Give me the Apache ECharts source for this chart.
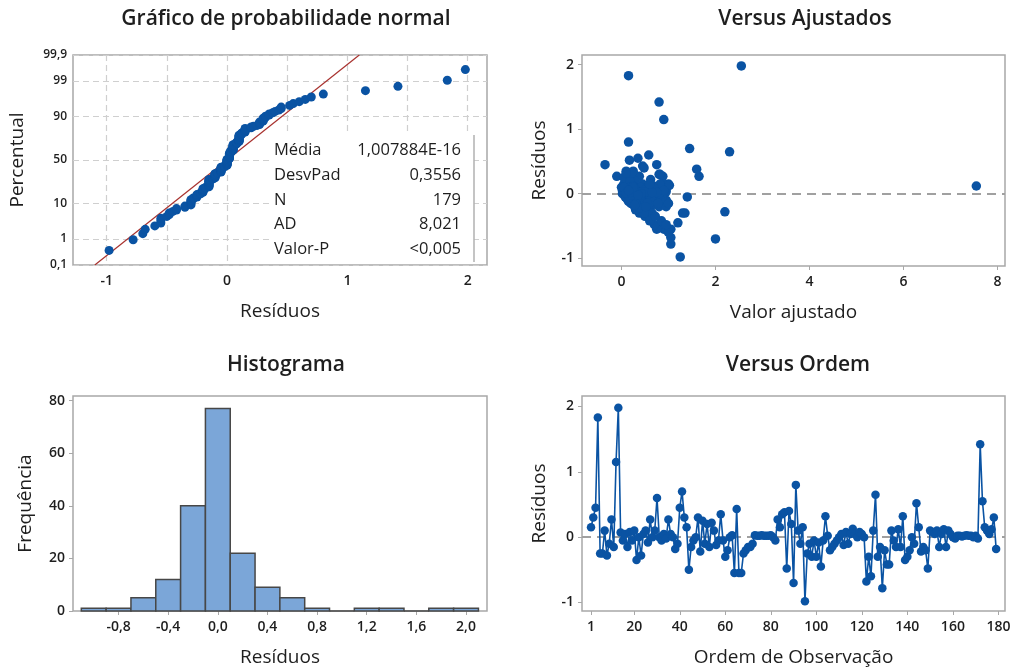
<!DOCTYPE html>
<html><head><meta charset="utf-8">
<script src="https://cdn.jsdelivr.net/npm/echarts@6/dist/echarts.min.js"></script>
<style>html,body{margin:0;padding:0;background:#fff}#c{width:1014px;height:669px}</style>
</head><body><div id="c"></div>
<script>
// ---------- DATA ----------
// residuals in observation order (1..179), read from "Versus Ordem"
const residuals = [
 0.15, 0.30, 0.45, 1.83, -0.25, -0.25, 0.10, -0.28, -0.10, 0.27,
 -0.15, 1.15, 1.98, 0.07, -0.05, 0.05, -0.15, 0.08, -0.05, 0.10,
 -0.35, 0.00, -0.28, 0.05, 0.10, -0.08, 0.27, 0.00, 0.10, 0.60,
 0.00, -0.05, 0.05, -0.02, 0.27, 0.05, 0.00, -0.18, -0.10, 0.45,
 0.70, 0.30, 0.15, -0.50, -0.15, -0.05, 0.00, 0.30, -0.22, 0.25,
 -0.10, 0.20, -0.15, 0.22, 0.10, -0.12, -0.05, 0.35, -0.05, -0.30,
 -0.20, 0.00, 0.03, -0.55, 0.43, -0.55, -0.55, -0.25, -0.20, -0.15,
 -0.15, -0.10, 0.03, 0.02, 0.02, 0.03, 0.02, 0.02, 0.02, 0.03,
 0.00, -0.05, 0.27, 0.15, 0.35, 0.38, -0.48, 0.40, 0.20, -0.70,
 0.80, 0.10, -0.10, 0.15, -0.98, -0.25, -0.10, -0.30, -0.05, -0.30,
 -0.08, -0.45, -0.05, 0.32, 0.02, -0.20, -0.15, -0.10, -0.05, 0.00,
 0.05, -0.12, 0.08, -0.10, 0.05, 0.13, 0.05, 0.00, 0.08, 0.05,
 0.00, -0.68, -0.30, -0.60, 0.10, 0.65, -0.30, -0.15, -0.78, -0.20,
 -0.42, -0.42, 0.10, -0.05, -0.15, 0.12, -0.15, 0.32, -0.35, -0.30,
 -0.20, 0.00, -0.10, 0.52, 0.15, -0.22, -0.15, -0.20, -0.48, 0.10,
 0.08, 0.05, 0.10, -0.15, 0.05, 0.12, -0.15, 0.10, 0.05, 0.00,
 -0.02, 0.02, 0.02, 0.01, 0.02, 0.03, 0.02, 0.02, 0.00, 0.02,
 -0.02, 1.42, 0.55, 0.15, 0.10, 0.05, 0.12, 0.30, -0.18
];
// fitted values in observation order, read from "Versus Ajustados"
const fitted = [
 0.05, 0.22, 0.75, 0.15, 0.45, 0.60, 0.30, 0.55, 0.20, -0.10,
 0.35, 0.90, 2.55, 0.95, 0.15, 0.40, 0.70, 0.10, 0.55, 0.65,
 0.50, 0.02, 2.20, 0.25, 0.50, 0.12, 0.38, 0.30, 0.75, 0.58,
 0.45, 0.08, 0.60, 0.35, 0.88, 0.18, 0.72, 0.30, 0.95, -0.35,
 1.45, 0.15, 1.00, 0.80, 0.22, 0.68, 0.12, 0.80, 0.40, 0.05,
 0.50, 0.28, 0.90, 0.62, 0.20, 0.15, 0.85, 0.25, 0.40, 0.38,
 0.62, 0.55, 0.95, 0.90, 0.45, 1.05, 0.75, 0.30, 0.80, 0.45,
 0.25, 0.58, 0.10, 0.20, 0.30, 0.40, 0.50, 0.15, 0.62, 0.05,
 0.35, 0.28, 1.65, 0.90, 0.10, 1.60, 0.70, 0.48, 0.18, 2.00,
 0.15, 0.85, 0.30, 0.45, 1.25, 0.50, 0.70, 1.35, 0.20, 0.65,
 0.42, 1.20, 1.40, 0.22, 0.78, 0.35, 0.60, 0.15, 0.50, 0.25,
 0.80, 0.95, 0.35, 0.42, 0.02, 1.02, 0.70, 0.60, 0.45, 0.12,
 0.88, 1.05, 1.30, 1.00, 0.55, 2.30, 0.45, 0.20, 1.05, 0.95,
 0.60, 0.85, 0.00, 0.65, 0.50, 0.68, 1.00, 0.10, 0.72, 0.48,
 0.28, 0.80, 0.18, 0.17, 0.82, 0.38, 0.55, 0.52, 0.95, 0.40,
 0.70, 0.32, 0.18, 0.30, 0.90, 0.25, 0.78, 0.05, 0.48, 0.58,
 0.22, 0.40, 0.62, 0.10, 0.30, 0.50, 0.75, 0.20, 0.42, 0.65,
 0.35, 0.80, 0.35, 0.60, 0.25, 0.15, 7.55, 0.82, 0.28
];
const histBinCenters = [-1.0, -0.8, -0.6, -0.4, -0.2, 0.0, 0.2, 0.4, 0.6, 0.8, 1.0, 1.2, 1.4, 1.6, 1.8, 2.0];
const histCounts     = [1, 1, 5, 12, 40, 77, 22, 9, 5, 1, 0, 1, 1, 0, 1, 1];
const histBinWidth = 0.2;

const percentTicks = [0.1, 1, 10, 50, 90, 99, 99.9];
const percentTickLabels = ['0,1', '1', '10', '50', '90', '99', '99,9'];
const residTicks = [-1, 0, 1, 2];
const probGridX = [-1, -0.5, 0, 0.5, 1, 1.5, 2];
const fitTicks = [0, 2, 4, 6, 8];
const histXTicks = [-0.8, -0.4, 0.0, 0.4, 0.8, 1.2, 1.6, 2.0];
const histYTicks = [0, 20, 40, 60, 80];
const orderTicks = [1, 20, 40, 60, 80, 100, 120, 140, 160, 180];

const statsLabels = ['Média', 'DesvPad', 'N', 'AD', 'Valor-P'];
const statsValues = ['1,007884E-16', '0,3556', '179', '8,021', '<0,005'];
const fitMean = 1.007884e-16, fitSd = 0.3556;

// ---------- helpers ----------
function qnorm(p){
 const a=[-3.969683028665376e+01,2.209460984245205e+02,-2.759285104469687e+02,1.383577518672690e+02,-3.066479806614716e+01,2.506628277459239e+00];
 const b=[-5.447609879822406e+01,1.615858368580409e+02,-1.556989798598866e+02,6.680131188771972e+01,-1.328068155288572e+01];
 const c=[-7.784894002430293e-03,-3.223964580411365e-01,-2.400758277161838e+00,-2.549732539343734e+00,4.374664141464968e+00,2.938163982698783e+00];
 const d=[7.784695709041462e-03,3.224671290700398e-01,2.445134137142996e+00,3.754408661907416e+00];
 const pl=0.02425, ph=1-pl; let q,r;
 if(p<pl){q=Math.sqrt(-2*Math.log(p));return (((((c[0]*q+c[1])*q+c[2])*q+c[3])*q+c[4])*q+c[5])/((((d[0]*q+d[1])*q+d[2])*q+d[3])*q+1);}
 if(p<=ph){q=p-0.5;r=q*q;return (((((a[0]*r+a[1])*r+a[2])*r+a[3])*r+a[4])*r+a[5])*q/(((((b[0]*r+b[1])*r+b[2])*r+b[3])*r+b[4])*r+1);}
 q=Math.sqrt(-2*Math.log(1-p));return -(((((c[0]*q+c[1])*q+c[2])*q+c[3])*q+c[4])*q+c[5])/((((d[0]*q+d[1])*q+d[2])*q+d[3])*q+1);
}
const percentZ = percentTicks.map(p => qnorm(p/100));
const n = residuals.length;
const sorted = residuals.slice().sort((x,y)=>x-y);
const probData = sorted.map((r,i)=>[r, qnorm((i+1-0.3)/(n+0.4))]);
const zLo = percentZ[0], zHi = percentZ[percentZ.length-1];
const fitLine = [[fitMean+fitSd*zLo, zLo],[fitMean+fitSd*zHi, zHi]];
const scatterData = residuals.map((r,i)=>[fitted[i], r]);
const orderData = residuals.map((r,i)=>[i+1, r]);
const histData = histBinCenters.map((c,i)=>[c, histCounts[i]]);

const BLUE = '#0a53a3';
const TXT = '#1e1e1e';
const FRAME = '#a8a8a8';
const FONT = 'Open Sans';

function lbl(extra){
  return Object.assign({color:TXT, fontSize:14, fontFamily:FONT, fontWeight:600}, extra);
}
function axisBase(extra){
  return Object.assign({
    type:'value',
    axisLine:{show:false, onZero:false},
    splitLine:{show:false},
    nameTextStyle:{color:TXT, fontSize:19, fontFamily:FONT},
    nameLocation:'middle'
  }, extra);
}
const tick = vals => ({show:true, length:4, inside:false, lineStyle:{color:FRAME, width:1}, customValues:vals});
const titleStyle = {color:TXT, fontSize:21, fontWeight:600, fontFamily:FONT};
const gridBase = {show:true, borderColor:FRAME, borderWidth:1.5, backgroundColor:'#fff', containLabel:false};

const option = {
  animation:false,
  backgroundColor:'#fff',
  title:[
    {text:'Gráfico de probabilidade normal', left:281, top:4, textAlign:'center', textStyle:titleStyle},
    {text:'Versus Ajustados', left:800, top:4, textAlign:'center', textStyle:titleStyle},
    {text:'Histograma', left:281, top:350, textAlign:'center', textStyle:titleStyle},
    {text:'Versus Ordem', left:793, top:350, textAlign:'center', textStyle:titleStyle}
  ],
  grid:[
    Object.assign({left:73, top:55, width:414, height:210}, gridBase),
    Object.assign({left:582, top:55, width:423, height:211}, gridBase),
    Object.assign({left:73, top:396, width:414, height:215}, gridBase),
    Object.assign({left:582, top:396, width:423, height:215}, gridBase)
  ],
  xAxis:[
    axisBase({gridIndex:0, min:-1.28, max:2.16, name:'Resíduos', nameGap:37,
      axisTick:{show:false, customValues:probGridX},
      splitLine:{show:true, lineStyle:{color:'#cfcfcf', width:1.2, type:[6,4]}},
      axisLabel:lbl({margin:9, customValues:residTicks})}),
    axisBase({gridIndex:1, min:-0.84, max:8.16, name:'Valor ajustado', nameGap:37,
      axisTick:tick(fitTicks),
      axisLabel:lbl({margin:9, customValues:fitTicks})}),
    axisBase({gridIndex:2, min:-1.167, max:2.169, name:'Resíduos', nameGap:37,
      axisTick:tick(histXTicks),
      axisLabel:lbl({margin:9, customValues:histXTicks, formatter:v=>v.toFixed(1).replace('.',',')})}),
    axisBase({gridIndex:3, min:-2.96, max:182.9, name:'Ordem de Observação', nameGap:37,
      axisTick:tick(orderTicks),
      axisLabel:lbl({margin:9, customValues:orderTicks})})
  ],
  yAxis:[
    axisBase({gridIndex:0, min:zLo, max:zHi, name:'Percentual', nameGap:46,
      axisTick:{show:false, customValues:percentZ},
      splitLine:{show:true, lineStyle:{color:'#cfcfcf', width:1.2, type:[6,4]}},
      axisLabel:lbl({fontSize:12, margin:6, customValues:percentZ,
        formatter:v=>{const i=percentZ.findIndex(z=>Math.abs(z-v)<1e-6);return i>=0?percentTickLabels[i]:'';}})}),
    axisBase({gridIndex:1, min:-1.12, max:2.15, name:'Resíduos', nameGap:33,
      axisTick:tick(residTicks),
      axisLabel:lbl({margin:8, customValues:residTicks})}),
    axisBase({gridIndex:2, min:0, max:81.8, name:'Frequência', nameGap:38,
      axisTick:tick(histYTicks),
      axisLabel:lbl({margin:8, customValues:histYTicks})}),
    axisBase({gridIndex:3, min:-1.13, max:2.16, name:'Resíduos', nameGap:33,
      axisTick:tick(residTicks),
      axisLabel:lbl({margin:8, customValues:residTicks})})
  ],
  series:[
    {type:'line', xAxisIndex:0, yAxisIndex:0, data:fitLine, symbol:'none', z:3,
      lineStyle:{color:'#a8322f', width:1.2}, silent:true},
    {type:'scatter', xAxisIndex:0, yAxisIndex:0, data:probData, symbolSize:9, z:4,
      itemStyle:{color:BLUE, opacity:1}},
    {type:'scatter', xAxisIndex:1, yAxisIndex:1, data:scatterData, symbolSize:9.5, z:4,
      itemStyle:{color:BLUE, opacity:1},
      markLine:{silent:true, symbol:'none', label:{show:false}, z:1,
        lineStyle:{color:'#a0a0a0', width:1.8, type:[9,6]}, data:[{yAxis:0}]}},
    {type:'custom', xAxisIndex:2, yAxisIndex:2, data:histData, z:3,
      renderItem:(params, api)=>{
        const c = api.value(0), v = api.value(1);
        const p0 = api.coord([c-histBinWidth/2, v]);
        const p1 = api.coord([c+histBinWidth/2, 0]);
        return {type:'rect', shape:{x:p0[0], y:p0[1], width:p1[0]-p0[0], height:p1[1]-p0[1]},
          style:{fill:'#7ba6d8', stroke:'#474747', lineWidth:1.5}};
      }},
    {type:'line', xAxisIndex:3, yAxisIndex:3, data:orderData, symbol:'circle', symbolSize:8.5, z:4,
      lineStyle:{color:BLUE, width:1.6}, itemStyle:{color:BLUE, opacity:1},
      markLine:{silent:true, symbol:'none', label:{show:false}, z:1,
        lineStyle:{color:'#a0a0a0', width:1.8, type:[9,6]}, data:[{yAxis:0}]}}
  ],
  graphic:[
    {type:'rect', z:1, shape:{x:270, y:135, width:204, height:128}, style:{fill:'#fff'}},
    {type:'line', z:1, shape:{x1:474, y1:135, x2:474, y2:262}, style:{stroke:'#b0b0b0', lineWidth:1.5}}
  ].concat(statsLabels.map((t,i)=>({type:'text', z:5, left:274, top:142+i*24.7,
      style:{text:t, fill:TXT, font:'16.5px "Open Sans"'}})))
   .concat(statsValues.map((t,i)=>({type:'text', z:5, right:1014-461, top:142+i*24.7,
      style:{text:t, fill:TXT, font:'16.5px "Open Sans"', textAlign:'right'}})))
};
const chart = echarts.init(document.getElementById('c'), null, {renderer:'canvas'});
chart.setOption(option);
</script></body></html>
